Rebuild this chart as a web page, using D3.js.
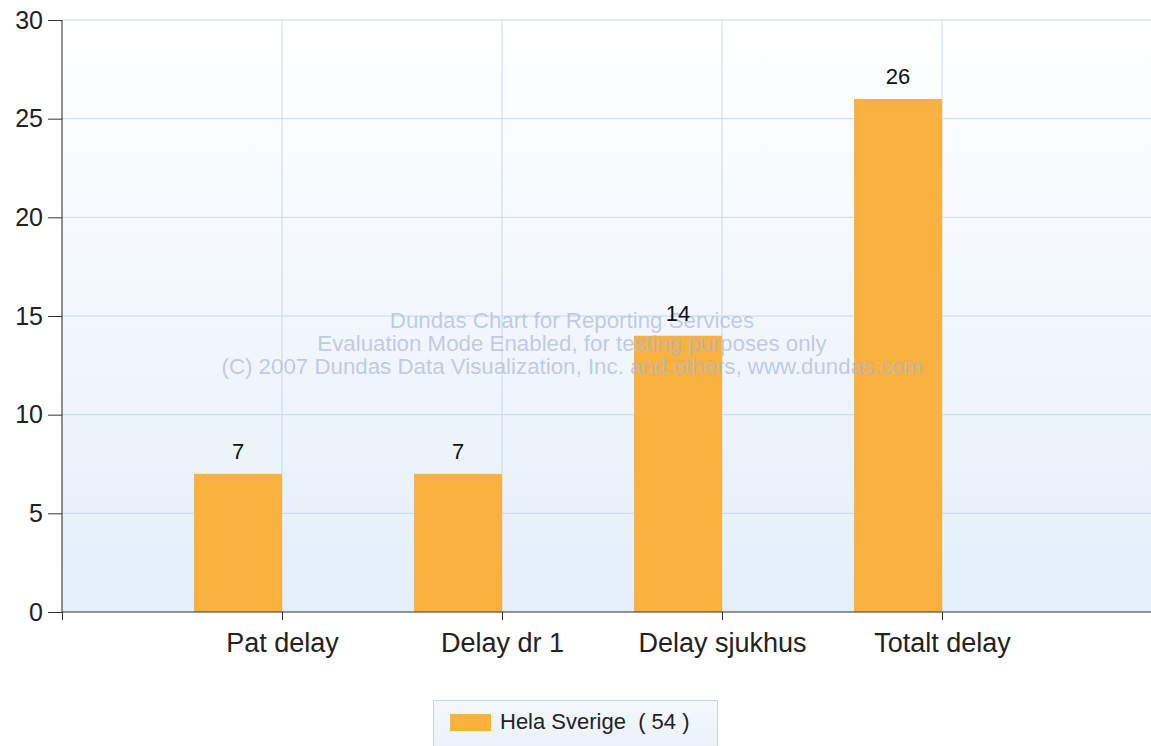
<!DOCTYPE html>
<html><head><meta charset="utf-8">
<script src="https://cdn.jsdelivr.net/npm/d3@7/dist/d3.min.js"></script>
<style>body{margin:0;background:#fff;overflow:hidden}svg{display:block;font-family:"Liberation Sans",Arial,sans-serif}</style>
</head><body><svg id="c" width="1151" height="746"></svg>
<script>
const categories = ["Pat delay", "Delay dr 1", "Delay sjukhus", "Totalt delay"];
const values = [7, 7, 14, 26];
const yTicks = [0, 5, 10, 15, 20, 25, 30];
const seriesName = "Hela Sverige";
const seriesTotal = 54;
const watermark = ["Dundas Chart for Reporting Services", "Evaluation Mode Enabled, for testing purposes only", "(C) 2007 Dundas Data Visualization, Inc. and others, www.dundas.com"];

const svg = d3.select("#c");
const L = 62, T = 20, B = 612, W = 1151;
const x = d3.scaleLinear().domain([0, 5]).range([L, L + 1100]);
const y = d3.scaleLinear().domain([0, 30]).range([B, T]);
const FONT = "Liberation Sans, Arial, sans-serif";

const defs = svg.append("defs");
const g1 = defs.append("linearGradient").attr("id", "bg").attr("x1", 0).attr("y1", 0).attr("x2", 0).attr("y2", 1);
g1.append("stop").attr("offset", "0").attr("stop-color", "#ffffff");
g1.append("stop").attr("offset", "1").attr("stop-color", "#e4effa");
const g2 = defs.append("linearGradient").attr("id", "lg").attr("x1", 0).attr("y1", 0).attr("x2", 0).attr("y2", 1);
g2.append("stop").attr("offset", "0").attr("stop-color", "#f4f8fd");
g2.append("stop").attr("offset", "1").attr("stop-color", "#e8f0fa");

svg.append("rect").attr("x", L).attr("y", T).attr("width", W - L).attr("height", B - T).attr("fill", "url(#bg)");

// gridlines
svg.append("g").selectAll("line").data(yTicks.filter(d => d > 0)).join("line")
  .attr("x1", L).attr("x2", W).attr("y1", d => y(d)).attr("y2", d => y(d))
  .attr("stroke", "#c6d8ee").attr("stroke-width", 1);
svg.append("g").selectAll("line").data(categories).join("line")
  .attr("x1", (d, i) => x(i + 1)).attr("x2", (d, i) => x(i + 1)).attr("y1", T).attr("y2", B)
  .attr("stroke", "#c6d8ee").attr("stroke-width", 1);

// bars
svg.append("g").selectAll("rect").data(values).join("rect")
  .attr("x", (d, i) => x(i + 1 - 0.4)).attr("width", x(0.4) - x(0))
  .attr("y", d => y(d)).attr("height", d => B - y(d))
  .attr("fill", "#f9b13f");

// watermark
svg.append("g").selectAll("text").data(watermark).join("text")
  .attr("x", 572).attr("y", (d, i) => 328 + i * 23)
  .attr("text-anchor", "middle").attr("font-size", 22.3).attr("fill", "#a9b7dc").attr("fill-opacity", 0.7)
  .text(d => d);

// value labels
svg.append("g").selectAll("text").data(values).join("text")
  .attr("x", (d, i) => x(i + 1 - 0.2)).attr("y", d => y(d) - 15)
  .attr("text-anchor", "middle").attr("font-size", 22).attr("fill", "#111")
  .text(d => d);

// y axis
const ya = svg.append("g").attr("transform", `translate(${L},0)`)
  .call(d3.axisLeft(y).tickValues(yTicks).tickSize(14).tickPadding(5));
ya.select(".domain").attr("stroke", "#222").attr("d", `M0,${T}V${B}`);
ya.selectAll(".tick line").attr("stroke", "#333");
ya.selectAll("text").attr("font-size", 25).attr("fill", "#222").attr("font-family", FONT);

// x axis
const xa = svg.append("g").attr("transform", `translate(0,${B})`)
  .call(d3.axisBottom(x).tickValues([0, 1, 2, 3, 4]).tickFormat(d => d === 0 ? "" : categories[d - 1]).tickSize(8).tickPadding(13));
xa.select(".domain").attr("stroke", "#333").attr("d", `M${L},0H${W}`);
xa.selectAll(".tick line").attr("stroke", "#333");
xa.selectAll("text").attr("font-size", 27).attr("fill", "#222").attr("font-family", FONT);

// legend
const lg = svg.append("g");
lg.append("rect").attr("x", 433.5).attr("y", 700.5).attr("width", 284).attr("height", 60)
  .attr("fill", "url(#lg)").attr("stroke", "#c4d6ec");
lg.append("rect").attr("x", 450).attr("y", 714).attr("width", 41).attr("height", 17).attr("fill", "#f9b13f");
lg.append("text").attr("x", 500).attr("y", 729).attr("font-size", 22).attr("fill", "#222")
  .attr("xml:space", "preserve").text(`${seriesName}  ( ${seriesTotal} )`);
</script></body></html>
